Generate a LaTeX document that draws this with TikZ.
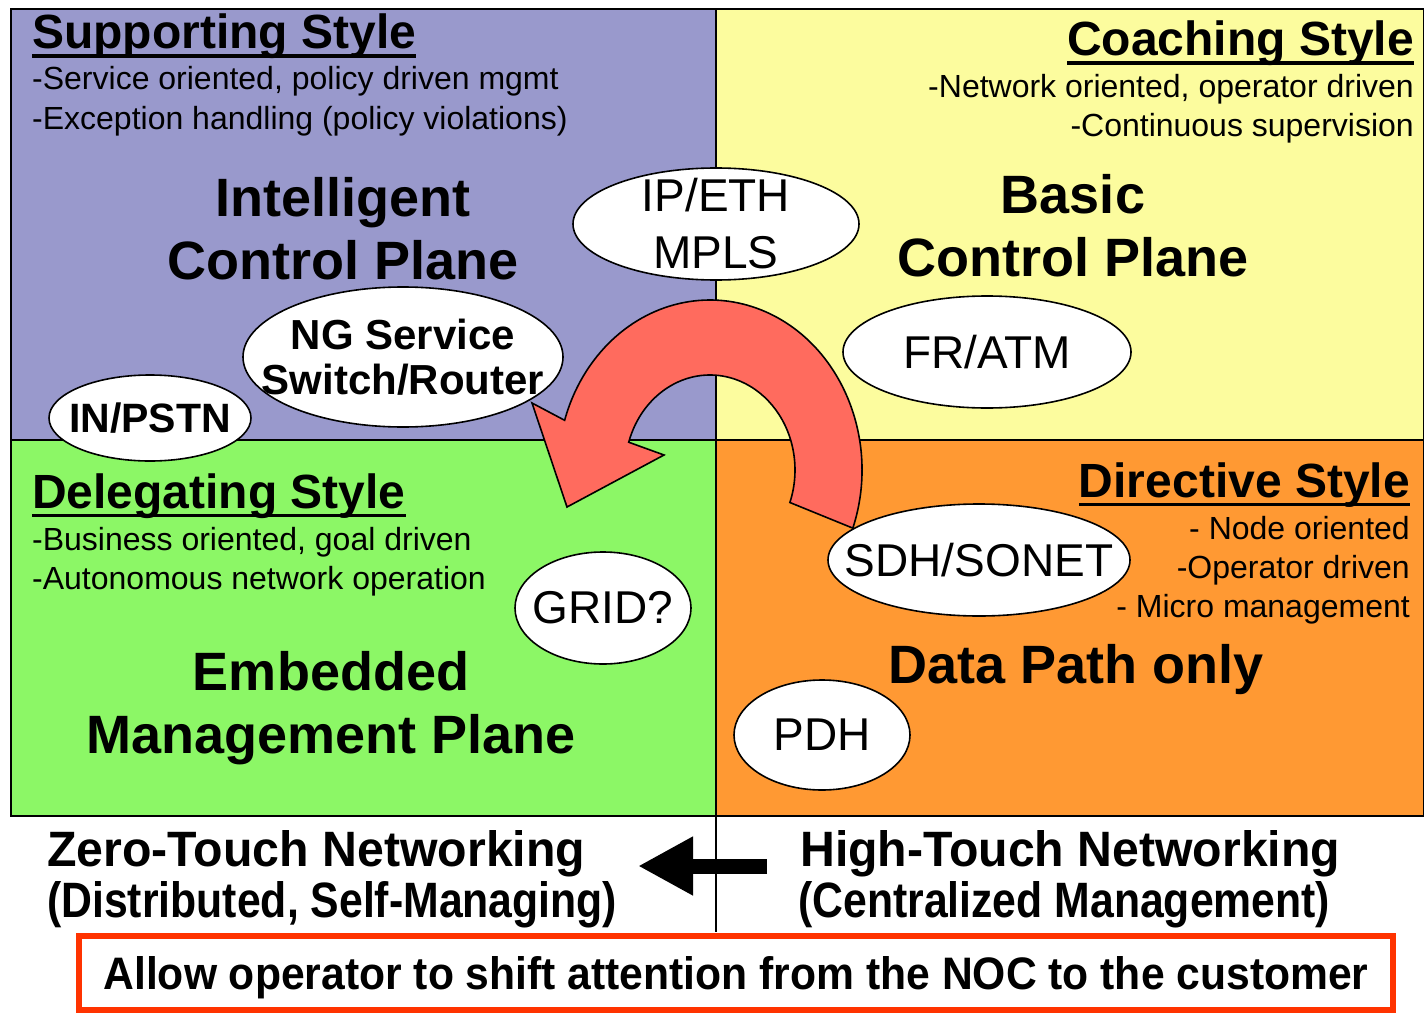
\documentclass[tikz,border=0pt]{standalone}
\usepackage{fontspec}
\setmainfont{Liberation Sans}
\usepackage{graphicx}
\usetikzlibrary{shapes.geometric,arrows.meta}

\definecolor{qpurple}{HTML}{9999CC}
\definecolor{qyellow}{HTML}{FCFC9E}
\definecolor{qgreen}{HTML}{8CF766}
\definecolor{qorange}{HTML}{FF9933}
\definecolor{turnred}{HTML}{FF6B5E}
\definecolor{boxred}{HTML}{FF3300}

\newcommand\hdline[1]{\setbox0=\hbox{#1}\rlap{\copy0}\rule[-9pt]{\wd0}{3.5pt}}

\begin{document}
\begin{tikzpicture}[x=1pt,y=-1pt,
  quad/.style={draw=black,line width=2pt},
  head/.style={inner sep=0pt,font=\bfseries\fontsize{48}{50}\selectfont},
  bullet/.style={inner sep=0pt,font=\fontsize{32}{34}\selectfont},
  title/.style={inner sep=0pt,align=center,font=\bfseries\fontsize{54}{63}\selectfont},
  oval/.style={ellipse,draw=black,fill=white,line width=1.6pt,inner sep=0pt},
  olabel/.style={inner sep=0pt,align=center,font=\fontsize{46}{57}\selectfont},
  foot/.style={inner sep=0pt,font=\bfseries\fontsize{48}{50}\selectfont}]
  \useasboundingbox (0,0) rectangle (1424,1014);

  \filldraw[quad,fill=qpurple] (11,9) rectangle (716,440);
  \filldraw[quad,fill=qyellow] (716,9) rectangle (1424,440);
  \filldraw[quad,fill=qgreen] (11,440) rectangle (716,816);
  \filldraw[quad,fill=qorange] (716,440) rectangle (1424,816);
  \draw[quad] (716,816) -- (716,932);

  \node[head,anchor=base west] (suphead) at (32,49) {\hdline{Supporting Style}};
  \node[bullet,anchor=base west] (supa) at (32,90) {-Service oriented, policy driven mgmt};
  \node[bullet,anchor=base west] (supb) at (32,130) {-Exception handling (policy violations)};

  \node[head,anchor=base east] (coahead) at (1414,56) {\hdline{Coaching Style}};
  \node[bullet,anchor=base east] (coaa) at (1414,98) {-Network oriented, operator driven};
  \node[bullet,anchor=base east] (coab) at (1414,136) {-Continuous supervision};

  \node[head,anchor=base west] (delhead) at (32,508) {\hdline{Delegating Style}};
  \node[bullet,anchor=base west] (dela) at (32,550) {-Business oriented, goal driven};
  \node[bullet,anchor=base west] (delb) at (32,589) {-Autonomous network operation};

  \node[head,anchor=base east] (dirhead) at (1410,497) {\hdline{Directive Style}};
  \node[bullet,anchor=base east] (dira) at (1410,539) {- Node oriented};
  \node[bullet,anchor=base east] (dirb) at (1410,578) {-Operator driven};
  \node[bullet,anchor=base east] (dirc) at (1410,617) {- Micro management};

  \node[title,anchor=north] (icp) at (343,177) {Intelligent\\Control Plane};
  \node[title,anchor=north] (bcp) at (1073,174) {Basic\\Control Plane};
  \node[title,anchor=north] (emp) at (331,651) {Embedded\\Management Plane};
  \node[title,anchor=base] (dpo) at (1076,683) {Data Path only};

  \node[oval,minimum width=286,minimum height=112,
    label={[olabel]center:{IP/ETH\\MPLS}}] (ipeth) at (716,224) {};
  \node[oval,minimum width=320,minimum height=140,
    label={[olabel,font=\bfseries\fontsize{42}{45}\selectfont]center:{NG Service\\Switch/Router}}] (ngsr) at (403,357) {};
  \node[oval,minimum width=202,minimum height=86,
    label={[olabel,font=\bfseries\fontsize{41}{43}\selectfont]center:IN/PSTN}] (inpstn) at (150,418) {};
  \node[oval,minimum width=288,minimum height=112,label={[olabel]center:FR/ATM}] (fratm) at (987,352) {};
  \node[oval,minimum width=302,minimum height=112,label={[olabel]center:SDH/SONET}] (sdh) at (979,560) {};
  \node[oval,minimum width=176,minimum height=112,label={[olabel]center:GRID?}] (grid) at (603,608) {};
  \node[oval,minimum width=176,minimum height=110,label={[olabel]center:PDH}] (pdh) at (822,735) {};

  \begin{scope}[shift={(710,470)}]
    \filldraw[fill=turnred,draw=black,line width=1.6pt]
      (20:152 and 170) arc[start angle=20,end angle=-163,x radius=152,y radius=170]
      -- (-178,-67) -- (-143,37) -- (-46,-15)
      -- (-163:85 and 95) arc[start angle=-163,end angle=20,x radius=85,y radius=95] -- cycle;
  \end{scope}

  \coordinate (shiftr) at (767,866);
  \coordinate (shiftl) at (638,866);
  \draw[line width=15pt,-{Triangle[length=55pt,width=55pt]}] (shiftr) -- (shiftl);

  \node[foot,anchor=base west] (zero) at (47,866) {\resizebox{538pt}{36pt}{Zero-Touch Networking}};
  \node[foot,anchor=base west] (zerob) at (47,917) {\resizebox{570pt}{36pt}{(Distributed, Self-Managing)}};
  \node[foot,anchor=base west] (high) at (800,866) {\resizebox{540pt}{36pt}{High-Touch Networking}};
  \node[foot,anchor=base west] (highb) at (798,917) {\resizebox{532pt}{36pt}{(Centralized Management)}};

  \node[draw=boxred,line width=6pt,minimum width=1314,minimum height=74,inner sep=0pt,
    text height=33pt,text depth=0pt,font=\bfseries\fontsize{44}{46}\selectfont] (allow) at (736,973)
    {\resizebox{1265pt}{33pt}{Allow operator to shift attention from the NOC to the customer}};
\end{tikzpicture}
\end{document}
